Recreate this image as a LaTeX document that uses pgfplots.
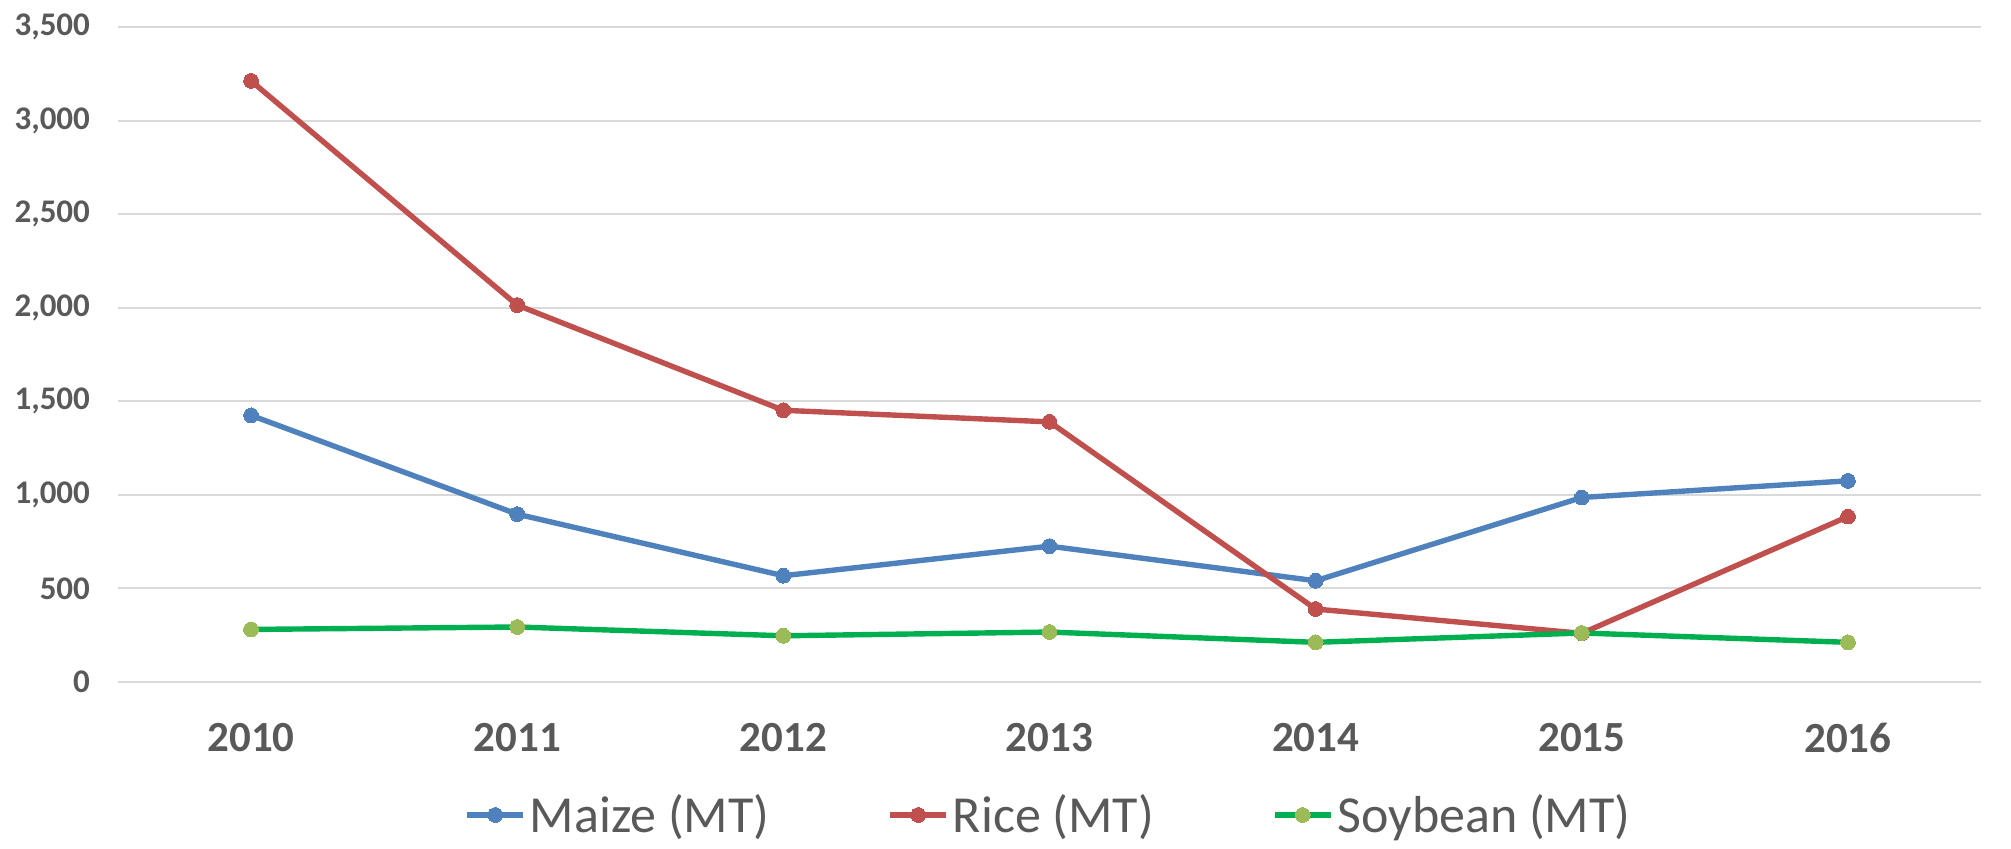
\documentclass[border=0pt]{standalone}
\usepackage{fontspec}
\usepackage{pgfplots}
\pgfplotsset{compat=1.18}
\setmainfont{Carlito}
\definecolor{txtgray}{HTML}{595959}
\definecolor{gridgray}{HTML}{D9D9D9}
\definecolor{maize}{HTML}{4F81BD}
\definecolor{rice}{HTML}{C0504D}
\definecolor{soyline}{HTML}{00B050}
\definecolor{soymark}{HTML}{9BBB59}
\begin{document}
\begin{tikzpicture}
\useasboundingbox (-59pt,-83pt) rectangle (946.5pt,341pt);
\begin{axis}[
  at={(0,0)}, anchor=south west,
  scale only axis, width=931.5pt, height=327.5pt,
  xmin=-0.5, xmax=6.5, ymin=0, ymax=3500,
  axis line style={draw=none},
  xtick={0,1,2,3,4,5,6},
  xticklabels={2010,2011,2012,2013,2014,2015,2016},
  ytick={0,500,1000,1500,2000,2500,3000,3500},
  major tick length=0pt,
  ymajorgrids, grid style={gridgray, line width=1pt},
  /pgf/number format/assume math mode=true,
  /pgf/number format/1000 sep={,},
  yticklabel style={font=\bfseries\fontsize{16.5}{19}\selectfont, text=txtgray, xshift=-10.5pt},
  xticklabel style={font=\bfseries\fontsize{21.5}{25}\selectfont, text=txtgray, yshift=-17pt},
  legend style={at={(0.5,-0.203)}, anchor=center, draw=none, fill=none,
    font=\fontsize{26}{30}\selectfont, text=txtgray,
    /tikz/every even column/.append style={column sep=57pt},
    nodes={inner xsep=2pt}},
  legend columns=-1,
  legend image code/.code={
    \draw[#1, mark=none] (0pt,0pt) -- (28pt,0pt);
    \draw[#1, only marks] plot coordinates {(14pt,0pt)};
  },
  every axis plot/.append style={line width=2.7pt, mark=*, mark size=3.7pt},
]
\addplot[color=maize, mark options={fill=maize, draw=maize, line width=0pt}] coordinates {
  (0,1425) (1,897) (2,568) (3,726) (4,541) (5,986) (6,1075)};
\addlegendentry{Maize (MT)}
\addplot[color=rice, mark options={fill=rice, draw=rice, line width=0pt}] coordinates {
  (0,3212) (1,2014) (2,1452) (3,1390) (4,390) (5,260) (6,884)};
\addlegendentry{Rice (MT)}
\addplot[color=soyline, mark options={fill=soymark, draw=soymark, line width=0pt}] coordinates {
  (0,281) (1,294) (2,247) (3,267) (4,212) (5,262) (6,212)};
\addlegendentry{Soybean (MT)}
\end{axis}
\end{tikzpicture}
\end{document}
